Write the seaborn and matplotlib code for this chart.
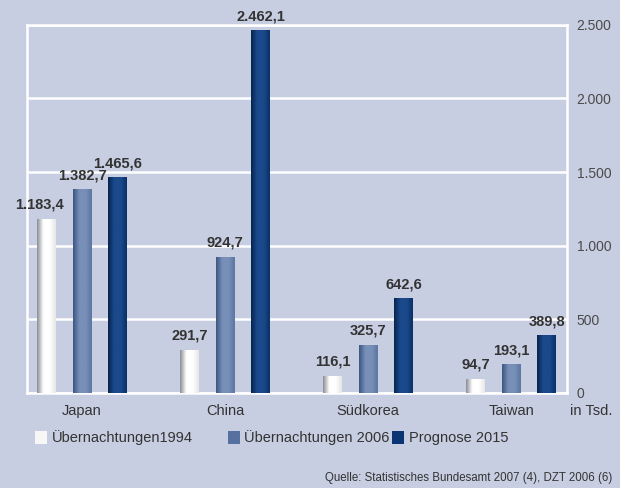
import numpy as np
import pandas as pd
import matplotlib
matplotlib.use('Agg')
import matplotlib.pyplot as plt
import matplotlib.colors as mcolors
from matplotlib.patches import Rectangle
import seaborn as sns

# data
laender = ['Japan', 'China', 'Südkorea', 'Taiwan']
serien = ['Übernachtungen1994', 'Übernachtungen 2006', 'Prognose 2015']
werte_1994 = [1183.4, 291.7, 116.1, 94.7]
werte_2006 = [1382.7, 924.7, 325.7, 193.1]
werte_2015 = [1465.6, 2462.1, 642.6, 389.8]
y_ticks = [0, 500, 1000, 1500, 2000, 2500]

bg = '#c7cee1'
farben = ['#f7f7f7', '#56719f', '#0b3572']
# edge / centre tones for the cylinder look
schatten = [('#8a8d94', '#ffffff', '#e6e6e6'),
            ('#3c5682', '#7890b8', '#5c76a2'),
            ('#06244f', '#1b4a8c', '#0a3066')]

df = pd.DataFrame({
    'Land': laender * 3,
    'Serie': [serien[0]] * 4 + [serien[1]] * 4 + [serien[2]] * 4,
    'Wert': werte_1994 + werte_2006 + werte_2015,
})

def de_fmt(v, nachkomma=1):
    s = f'{v:,.{nachkomma}f}'
    return s.replace(',', 'X').replace('.', ',').replace('X', '.')

sns.set_style('white')
plt.rcParams['font.family'] = ['Liberation Sans', 'DejaVu Sans']

fig = plt.figure(figsize=(6.2, 4.88), dpi=100, facecolor=bg)
ax = fig.add_axes([0.0435, 0.195, 0.871, 0.754])
ax.set_facecolor(bg)

sns.barplot(data=df, x='Land', y='Wert', hue='Serie', hue_order=serien,
            order=laender, palette=farben, width=0.75, gap=0.47,
            linewidth=0, errorbar=None, legend=False, ax=ax, zorder=3)

# gradient fill + labels
for i, cont in enumerate(ax.containers):
    cmap = mcolors.LinearSegmentedColormap.from_list('c', [schatten[i][0], schatten[i][1],
                                                            schatten[i][1], schatten[i][2]])
    for j, bar in enumerate(cont):
        x0, w, h = bar.get_x(), bar.get_width(), bar.get_height()
        grad = np.linspace(0, 1, 64).reshape(1, -1)
        im = ax.imshow(grad, cmap=cmap, aspect='auto', extent=(x0, x0 + w, 0, h),
                       zorder=4, interpolation='bicubic')
        im.set_clip_path(bar)
        dx = -5 if (i == 0 and j == 0) else 0
        ax.annotate(de_fmt(h), (x0 + w / 2, h), xytext=(dx, 5), textcoords='offset points',
                    ha='center', va='bottom', fontsize=10.5, fontweight='bold',
                    color='#333333', annotation_clip=False)

ax.set_xlim(-0.385, 3.39)
ax.set_ylim(0, 2500)
ax.set_yticks(y_ticks)
ax.set_yticklabels([de_fmt(t, 0) for t in y_ticks])
ax.yaxis.tick_right()
ax.tick_params(axis='y', length=0, pad=7, labelsize=10, labelcolor='#4a4a4a')
ax.tick_params(axis='x', length=0, pad=8, labelsize=10.5, labelcolor='#333333')
ax.grid(axis='y', color='white', linewidth=1.8)
ax.set_axisbelow(True)
for s in ax.spines.values():
    s.set_color('white')
    s.set_linewidth(1.8)
ax.set_xlabel('')
ax.set_ylabel('')

fig.text(0.919, 0.158, 'in Tsd.', fontsize=10.5, color='#333333', ha='left', va='center')

# legend
leg_x = [0.057, 0.368, 0.633]
for k, name in enumerate(serien):
    fig.patches.append(Rectangle((leg_x[k], 0.091), 0.019, 0.025, transform=fig.transFigure,
                                 facecolor=farben[k], edgecolor='none'))
    fig.text(leg_x[k] + 0.026, 0.103, name, fontsize=10.5, color='#333333', va='center')

fig.text(0.987, 0.02, 'Quelle: Statistisches Bundesamt 2007 (4), DZT 2006 (6)',
         fontsize=8.3, color='#333333', ha='right', va='center')

fig.savefig('out.png', dpi=100, facecolor=bg)
